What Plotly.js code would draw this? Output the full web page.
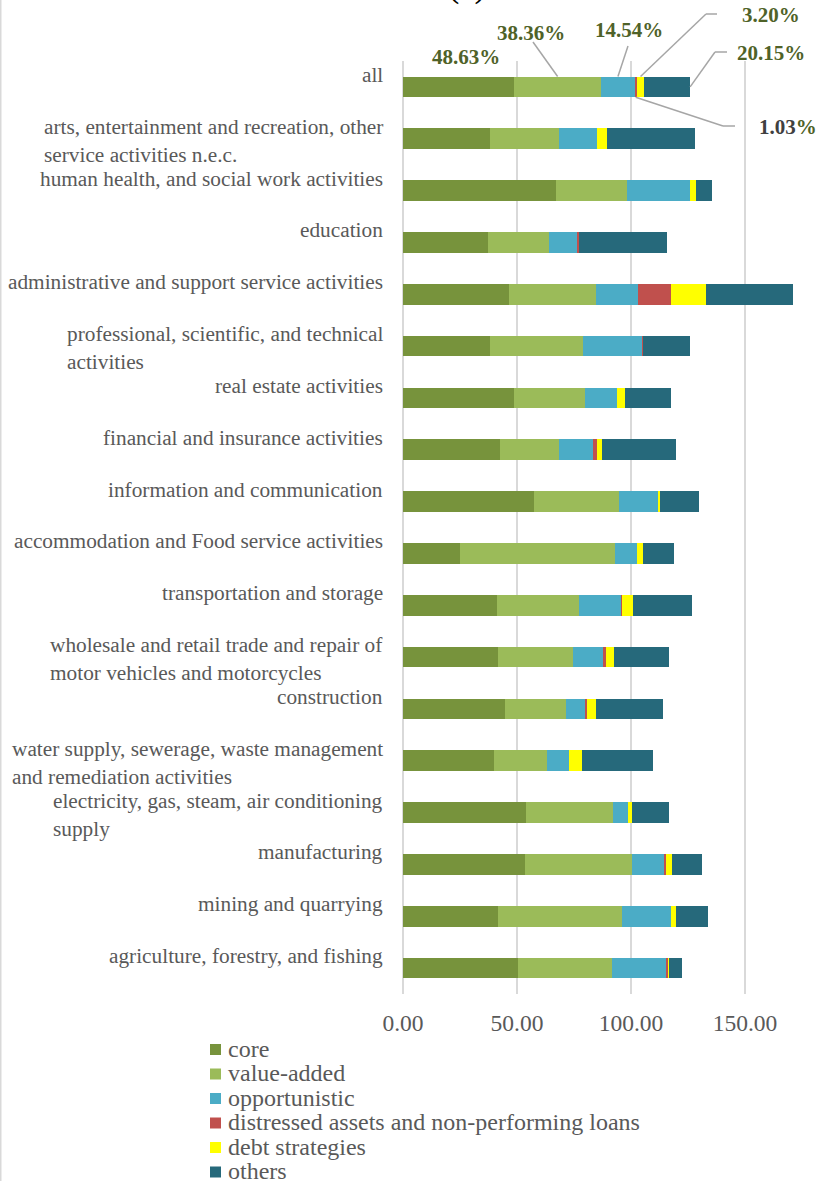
<!DOCTYPE html>
<html><head><meta charset="utf-8">
<script src="https://cdn.plot.ly/plotly-3.0.1.min.js"></script>
<style>html,body{margin:0;padding:0;background:#fff}#chart{width:821px;height:1181px}</style>
</head><body><div id="chart"></div>
<script>
// ---- data (top to bottom) ----
const categories = [
  "all",
  "arts, entertainment and recreation, other service activities n.e.c.",
  "human health, and social work activities",
  "education",
  "administrative and support service activities",
  "professional, scientific, and technical activities",
  "real estate activities",
  "financial and insurance activities",
  "information and communication",
  "accommodation and Food service activities",
  "transportation and storage",
  "wholesale and retail trade and repair of motor vehicles and motorcycles",
  "construction",
  "water supply, sewerage, waste management and remediation activities",
  "electricity, gas, steam, air conditioning supply",
  "manufacturing",
  "mining and quarrying",
  "agriculture, forestry, and fishing"
];
const categoryLabels = [
  "all",
  "arts, entertainment and recreation, other<br>service activities n.e.c.",
  "human health, and social work activities",
  "education",
  "administrative and support service activities",
  "professional, scientific, and technical<br>activities",
  "real estate activities",
  "financial and insurance activities",
  "information and communication",
  "accommodation and Food service activities",
  "transportation and storage",
  "wholesale and retail trade and repair of<br>motor vehicles and motorcycles",
  "construction",
  "water supply, sewerage, waste management<br>and remediation activities",
  "electricity, gas, steam, air conditioning<br>supply",
  "manufacturing",
  "mining and quarrying",
  "agriculture, forestry, and fishing"
];
const seriesNames = ["core", "value-added", "opportunistic",
  "distressed assets and non-performing loans", "debt strategies", "others"];
const core          = [48.63, 38.0, 67.0, 37.1, 46.3, 38.0, 48.5, 42.4, 57.3, 24.9, 41.1, 41.5, 44.6, 39.9, 53.8, 53.7, 41.5, 50.3];
const valueAdded    = [38.36, 30.4, 31.2, 27.1, 38.5, 41.1, 31.2, 26.0, 37.3, 67.9, 36.1, 33.1, 27.0, 23.1, 38.3, 46.6, 54.6, 41.5];
const opportunistic = [14.54, 16.5, 27.5, 12.1, 18.4, 25.7, 14.0, 15.1, 17.1,  9.7, 18.6, 13.3,  8.1, 10.0,  6.6, 14.0, 21.3, 23.6];
const distressed    = [ 1.03,  0.0,  0.0,  1.0, 14.2,  0.3,  0.0,  1.4,  0.0,  0.0,  0.2,  1.0,  0.9,  0.0,  0.0,  0.9,  0.0,  0.6];
const debt          = [ 3.20,  4.4,  3.0,  0.0, 15.6,  0.3,  3.7,  2.5,  1.0,  2.9,  4.7,  3.5,  4.2,  5.5,  1.7,  2.9,  2.5,  0.7];
const others        = [20.15, 38.9,  6.8, 38.6, 37.9, 20.6, 20.3, 32.2, 17.0, 13.5, 25.9, 24.4, 29.2, 31.3, 16.3, 12.9, 13.7,  5.7];
const tickValues = [0, 50, 100, 150];
const tickLabels = ["0.00", "50.00", "100.00", "150.00"];

// ---- style ----
const colors = ["#77933C", "#9BBB59", "#4BACC6", "#C0504D", "#FFFF00", "#26697B"];
const FONT = "Liberation Serif, 'Times New Roman', serif";
const GREY_TXT = "#595959";
const GRID = "#D9D9D9";
const LABEL_GREEN = "#4F6228";
const L = 403, T = 61, B = 187, R = 0, WIDTH = 821, HEIGHT = 1181;
const W = WIDTH - L - R, H = HEIGHT - T - B;
const X_MAX = 183.3;
const catH = H / categories.length;
const BAR_W = 0.4;
const xAt = px => (px - L) / W * X_MAX;      // pixel -> x data
const pxX = px => (px - L) / W;              // pixel -> paper x
const yAt = py => 1 - (py - T) / H;          // pixel -> paper y

const allSeries = [core, valueAdded, opportunistic, distressed, debt, others];
const traces = allSeries.map((vals, i) => ({
  type: "bar", orientation: "h", name: seriesNames[i],
  y: categories, x: vals, width: BAR_W,
  marker: {color: colors[i], line: {width: 0}},
  hoverinfo: "x+name", showlegend: false
}));

// ---- "all" row callouts ----
const allRow = allSeries.map(s => s[0]);
const cum = []; allRow.reduce((a, v, i) => (cum[i] = a + v), 0);
const start = i => (i === 0 ? 0 : cum[i - 1]);
const mid = i => start(i) + allRow[i] / 2;
const barCenterPy = T + catH / 2;
const barTopPy = barCenterPy - BAR_W * catH / 2;
const barBotPy = barCenterPy + BAR_W * catH / 2;
const pct = i => allRow[i].toFixed(2) + "%";

const lineStyle = {color: "#A6A6A6", width: 1.5};
const seg = (x0, y0, x1, y1) => ({type: "line", xref: "x", yref: "paper", x0, y0, x1, y1, line: lineStyle, layer: "above"});
const shapes = [
  seg(xAt(533), yAt(42), mid(1), yAt(barTopPy)),
  seg(xAt(628), yAt(46), mid(2), yAt(barTopPy)),
  seg(mid(4), yAt(barTopPy), xAt(706), yAt(14)),
  seg(xAt(706), yAt(14), xAt(717), yAt(14)),
  seg(cum[5], yAt(barCenterPy), xAt(715), yAt(52)),
  seg(xAt(715), yAt(52), xAt(727), yAt(52)),
  seg(mid(3), yAt(barBotPy), xAt(723), yAt(126)),
  seg(xAt(723), yAt(126), xAt(735), yAt(126)),
  // outer chart border on the left
  {type: "line", xref: "paper", yref: "paper", x0: pxX(0.75), x1: pxX(0.75),
   y0: yAt(HEIGHT), y1: yAt(0), line: {color: GRID, width: 1.5}}
];

const pctFont = {family: FONT, size: 21, color: LABEL_GREEN, weight: "bold"};
const pctAnn = (text, px, py) => ({xref: "x", yref: "paper", x: xAt(px), y: yAt(py),
  text: "<b>" + text + "</b>", showarrow: false, xanchor: "center", yanchor: "middle", font: pctFont});
const annotations = [
  pctAnn(pct(0), 465.5, 57),
  pctAnn(pct(1), 531, 33),
  pctAnn(pct(2), 629, 30),
  pctAnn(pct(4), 771, 15),
  pctAnn(pct(5), 771, 53),
  pctAnn('<span style="color:#404040">' + allRow[3].toFixed(2) + '</span>%', 788, 127),
  // partially visible panel title (cut by the top edge, as in the source)
  {xref: "paper", yref: "paper", x: pxX(466.5), y: yAt(7), yanchor: "bottom", xanchor: "center",
   text: "(a)", showarrow: false, font: {family: FONT, size: 34, color: "#000000"}}
];
categories.forEach((c, i) => annotations.push({
  xref: "paper", yref: "y", x: pxX(385), y: c, xanchor: "right", yanchor: "top",
  yshift: 26, align: "left", text: categoryLabels[i], showarrow: false,
  font: {family: FONT, size: 21.3, color: GREY_TXT}
}));

// ---- legend (drawn as keys + texts) ----
const LEG_Y0 = 1049.5, LEG_DY = 24.5, LEG_SQ = 11, LEG_SQ_X = 210, LEG_TXT_X = 226;
seriesNames.forEach((n, i) => {
  const cy = LEG_Y0 + i * LEG_DY;
  shapes.push({type: "rect", xref: "paper", yref: "paper",
    x0: pxX(LEG_SQ_X), x1: pxX(LEG_SQ_X + LEG_SQ), y0: yAt(cy - LEG_SQ / 2), y1: yAt(cy + LEG_SQ / 2),
    fillcolor: colors[i], line: {width: 0}});
  annotations.push({xref: "paper", yref: "paper", x: pxX(LEG_TXT_X), y: yAt(cy - 1),
    xanchor: "left", yanchor: "middle", text: n, showarrow: false,
    font: {family: FONT, size: 24, color: GREY_TXT}});
});

const layout = {
  width: WIDTH, height: HEIGHT,
  margin: {l: L, r: R, t: T, b: B, pad: 0, autoexpand: false},
  paper_bgcolor: "#fff", plot_bgcolor: "#fff",
  barmode: "stack", bargap: 0.6,
  font: {family: FONT, color: GREY_TXT},
  xaxis: {range: [0, X_MAX], tickvals: tickValues, ticktext: tickLabels,
    showgrid: true, gridcolor: GRID, gridwidth: 1.5,
    zeroline: true, zerolinecolor: GRID, zerolinewidth: 1.5,
    showline: false, ticks: "", ticklabelstandoff: 12,
    tickfont: {family: FONT, size: 23.5, color: GREY_TXT}, fixedrange: true},
  yaxis: {type: "category", autorange: false, range: [categories.length - 0.5, -0.5],
    showticklabels: false, showgrid: false, zeroline: false, showline: false, ticks: "", fixedrange: true},
  showlegend: false,
  shapes, annotations
};
Plotly.newPlot("chart", traces, layout, {displayModeBar: false, staticPlot: true});
</script></body></html>
